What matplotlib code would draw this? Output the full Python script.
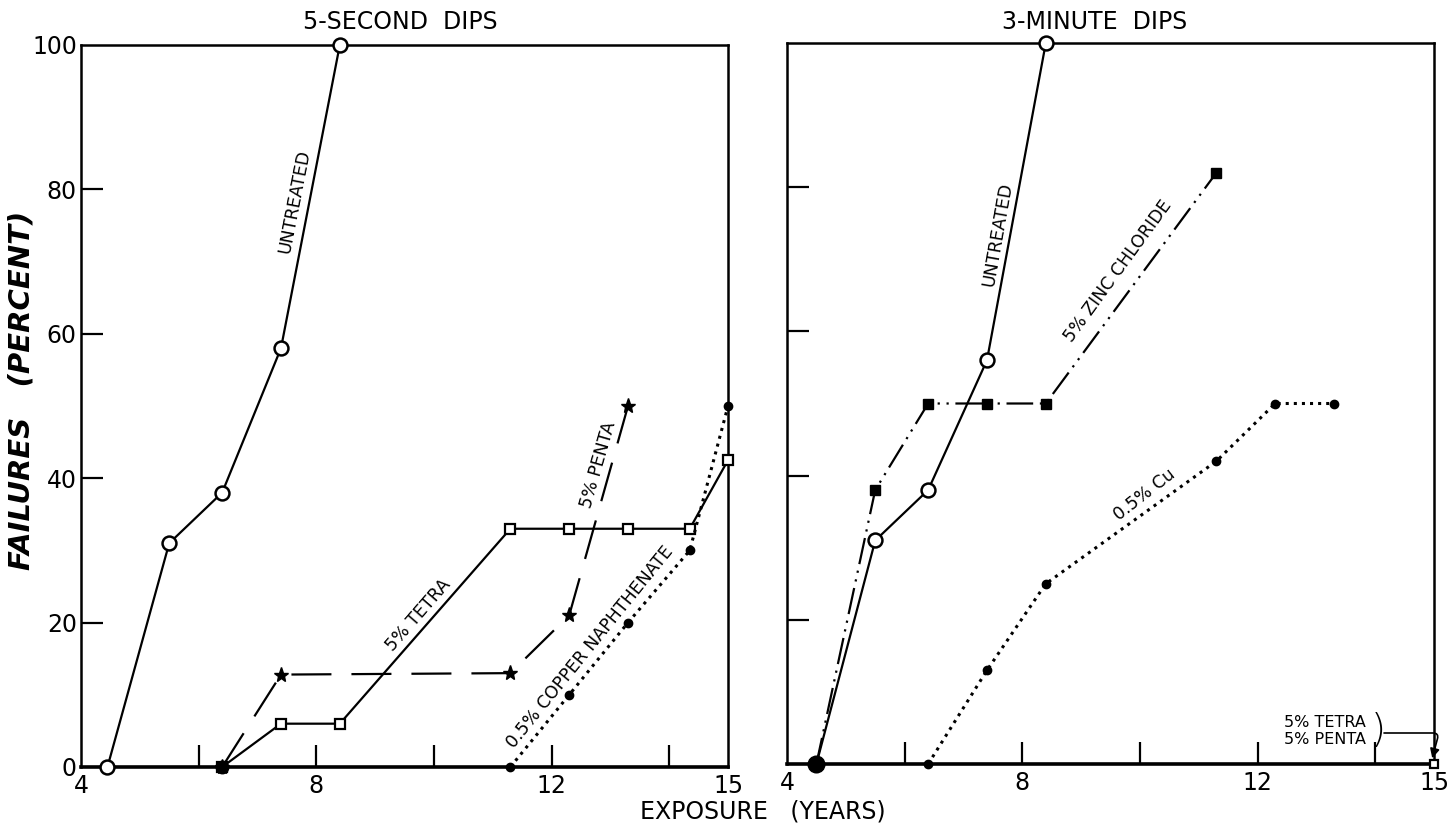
import matplotlib
matplotlib.use("Agg")
import matplotlib.pyplot as plt

plt.rcParams['font.family'] = ['DejaVu Sans']

# ---------------- data ----------------
# 5-second dips
x_untr_5s = [4.45, 5.5, 6.4, 7.4, 8.4]
y_untr_5s = [0, 31, 38, 58, 100]
x_tetra_5s = [6.4, 7.4, 8.4, 11.3, 12.3, 13.3, 14.35, 15.0]
y_tetra_5s = [0, 6, 6, 33, 33, 33, 33, 42.5]
x_penta_5s = [6.4, 7.4, 11.3, 12.3, 13.3]
y_penta_5s = [0, 12.8, 13, 21, 50]
x_cu_5s = [11.3, 12.3, 13.3, 14.35, 15.0]
y_cu_5s = [0, 10, 20, 30, 50]

# 3-minute dips
x_untr_3m = [4.5, 5.5, 6.4, 7.4, 8.4]
y_untr_3m = [0, 31, 38, 56, 100]
x_zn_3m = [4.5, 5.5, 6.4, 7.4, 8.4, 11.3]
y_zn_3m = [0, 38, 50, 50, 50, 82]
x_cu_3m = [6.4, 7.4, 8.4, 11.3, 12.3, 13.3]
y_cu_3m = [0, 13, 25, 42, 50, 50]
x_tp_3m = [15.0]
y_tp_3m = [0]

xticks_major = [4, 8, 12, 15]
xticks_minor = [6, 10, 14]
yticks = [0, 20, 40, 60, 80, 100]

W, H = 1448, 825
fig = plt.figure(figsize=(W / 100, H / 100), dpi=100)
axL = fig.add_axes([81 / W, 1 - 767 / H, (728 - 81) / W, (767 - 45) / H])
axR = fig.add_axes([787 / W, 1 - 764 / H, (1434 - 787) / W, (764 - 43) / H])

for ax in (axL, axR):
    ax.set_xlim(4, 15)
    ax.set_ylim(0, 100)
    for s in ax.spines.values():
        s.set_linewidth(1.8)
    ax.spines['bottom'].set_linewidth(2.6)
    ax.set_xticks(xticks_major)
    ax.set_xticks(xticks_minor, minor=True)
    ax.set_yticks(yticks)
    ax.tick_params(axis='both', which='both', direction='in', length=16, width=1.6,
                   labelsize=17, pad=3)
    ax.tick_params(axis='x', which='major', pad=5)
    ax.set_xticklabels([str(v) for v in xticks_major])
    ax.set_yticklabels([str(v) for v in yticks])
    for t in ax.xaxis.get_major_ticks():
        if t.get_loc() in (4, 15):
            t.tick1line.set_visible(False)
    for t in ax.yaxis.get_major_ticks():
        if t.get_loc() in (0, 100):
            t.tick1line.set_visible(False)

axR.set_yticklabels([])

lw = 1.6
# ---------- left panel ----------
axL.plot(x_untr_5s, y_untr_5s, '-', color='black', lw=lw, marker='o', ms=10,
         mfc='white', mec='black', mew=1.8, clip_on=False, zorder=4)
axL.plot(x_tetra_5s, y_tetra_5s, '-', color='black', lw=lw, marker='s', ms=7,
         mfc='white', mec='black', mew=1.6, clip_on=False, zorder=3)
axL.plot(x_penta_5s, y_penta_5s, color='black', lw=lw, dashes=(18, 9),
         marker='*', ms=11, mfc='black', mec='black', clip_on=False, zorder=3)
axL.plot(x_cu_5s, y_cu_5s, ':', color='black', lw=2.2, marker='o', ms=6,
         mfc='black', mec='black', clip_on=False, zorder=3)
axL.plot([x_tetra_5s[0]], [y_tetra_5s[0]], marker='o', ms=9, color='black',
         clip_on=False, zorder=5)

txt_kw = dict(ha='center', va='center', rotation_mode='anchor', fontsize=12.5,
              color='black', fontweight='medium')
axL.text(7.64, 78.3, 'UNTREATED', rotation=79, **txt_kw)
axL.text(12.80, 41.9, '5% PENTA', rotation=74, **txt_kw)
axL.text(9.74, 21.0, '5% TETRA', rotation=49, **txt_kw)
axL.text(12.66, 16.6, '0.5% COPPER NAPHTHENATE', rotation=51, **txt_kw)

# ---------- right panel ----------
axR.plot(x_untr_3m, y_untr_3m, '-', color='black', lw=lw, marker='o', ms=10,
         mfc='white', mec='black', mew=1.8, clip_on=False, zorder=4)
axR.plot(x_zn_3m, y_zn_3m, color='black', lw=lw, dashes=(12, 3, 1, 3, 1, 3),
         marker='s', ms=7, mfc='black', mec='black', clip_on=False, zorder=3)
axR.plot(x_cu_3m, y_cu_3m, ':', color='black', lw=2.2, marker='o', ms=6,
         mfc='black', mec='black', clip_on=False, zorder=3)
axR.plot(x_tp_3m, y_tp_3m, linestyle='none', marker='s', ms=6, mfc='white',
         mec='black', mew=1.6, clip_on=False, zorder=5)
axR.plot([x_untr_3m[0]], [y_untr_3m[0]], marker='o', ms=12, color='black',
         clip_on=False, zorder=5)

axR.text(7.58, 73.4, 'UNTREATED', rotation=80, **txt_kw)
axR.text(9.63, 68.3, '5% ZINC CHLORIDE', rotation=54, **txt_kw)
axR.text(10.08, 37.4, '0.5% Cu', rotation=38, **txt_kw)
axR.text(13.85, 4.6, '5% TETRA\n5% PENTA', ha='right', va='center', fontsize=11.5,
         linespacing=1.15)
axR.text(13.92, 4.6, ')', ha='left', va='center', fontsize=28,
         fontweight='light')
axR.annotate('', xy=(x_tp_3m[0] - 0.03, y_tp_3m[0] + 0.8), xytext=(14.15, 4.3),
             arrowprops=dict(arrowstyle='-|>', color='black', lw=1.2,
                             connectionstyle='angle,angleA=0,angleB=75,rad=6',
                             shrinkA=0, shrinkB=0, mutation_scale=14))

# ---------- titles and labels ----------
fig.text(400 / W, 1 - 22 / H, '5-SECOND  DIPS', ha='center', va='center', fontsize=17)
fig.text(1095 / W, 1 - 22 / H, '3-MINUTE  DIPS', ha='center', va='center', fontsize=17)
fig.text(763 / W, 1 - 812 / H, 'EXPOSURE   (YEARS)', ha='center', va='center',
         fontsize=17)
fig.text(22 / W, 1 - 390 / H, 'FAILURES   (PERCENT)', ha='center', va='center',
         rotation=90, fontsize=21, fontstyle='italic', fontweight='bold')

fig.savefig('out.png', dpi=100)
